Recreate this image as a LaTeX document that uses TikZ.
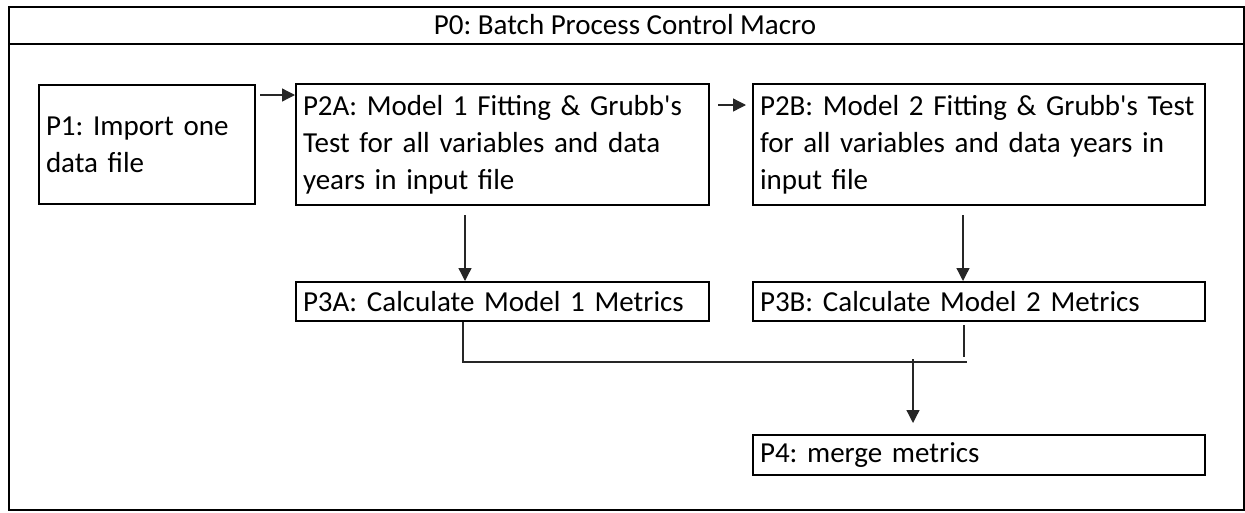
\documentclass[tikz,border=0pt]{standalone}
\usepackage{fontspec}
\setmainfont{Carlito}[Ligatures=TeXOff]
\frenchspacing
\usetikzlibrary{arrows.meta,calc}
\begin{document}
\begin{tikzpicture}[x=1pt,y=-1pt,
  txt/.style={font=\fontsize{29}{37}\selectfont},
  box/.style={txt,draw=black,line width=2pt,anchor=north west,inner xsep=7pt,inner ysep=0pt,align=left},
  conn/.style={draw=black!85,line width=1.3pt},
  arr/.style={conn,-{Triangle[length=13pt,width=13pt]}}]
\useasboundingbox (0,0) rectangle (1245,512);
% frame
\node[draw=black,line width=2pt,anchor=north west,inner sep=0pt,minimum width=1235pt,minimum height=503pt] (frame) at (8,6) {};
\coordinate (sepL) at (8,44);
\coordinate (sepR) at (1243,44);
\draw[line width=2pt] (sepL) -- (sepR);
\node[txt] (P0) at (625,25) {P0: Batch Process Control Macro};
% boxes
\node[box,minimum width=216pt,minimum height=119pt,text width=202pt] (P1) at (38,84) {P1: Import one\\data file};
\node[box,minimum width=413pt,minimum height=121pt,text width=399pt] (P2A) at (295,83) {P2A: Model 1 Fitting \& Grubb's\\Test for all variables and data\\years in input file};
\node[box,minimum width=452pt,minimum height=121pt,text width=438pt] (P2B) at (752,83) {P2B: Model 2 Fitting \& Grubb's Test\\for all variables and data years in\\input file};
\node[box,minimum width=413pt,minimum height=39pt,text width=399pt] (P3A) at (295,281) {P3A: Calculate Model 1 Metrics};
\node[box,minimum width=452pt,minimum height=39pt,text width=438pt] (P3B) at (752,281) {P3B: Calculate Model 2 Metrics};
\node[box,minimum width=452pt,minimum height=40pt,text width=438pt] (P4) at (752,434) {P4: merge metrics};
% connectors
\coordinate (a1s) at (260,95);
\draw[arr] (a1s) -- (a1s -| P2A.west);
\coordinate (a2s) at (718,105);
\coordinate (a2e) at (746,105);
\draw[arr] (a2s) -- (a2e);
\coordinate (a3s) at (465,215);
\draw[arr] (a3s) -- (a3s |- P3A.north);
\coordinate (a4s) at (963,215);
\draw[arr] (a4s) -- (a4s |- P3B.north);
\coordinate (m1) at (463,362);
\coordinate (mR) at (967,362);
\draw[conn] (m1 |- P3A.south) -- (m1) -- (mR);
\coordinate (b1) at (964,325);
\coordinate (b2) at (964,357);
\draw[conn] (b1) -- (b2);
\coordinate (m2) at (913,359);
\coordinate (m3) at (913,423);
\draw[arr] (m2) -- (m3);
\end{tikzpicture}
\end{document}
